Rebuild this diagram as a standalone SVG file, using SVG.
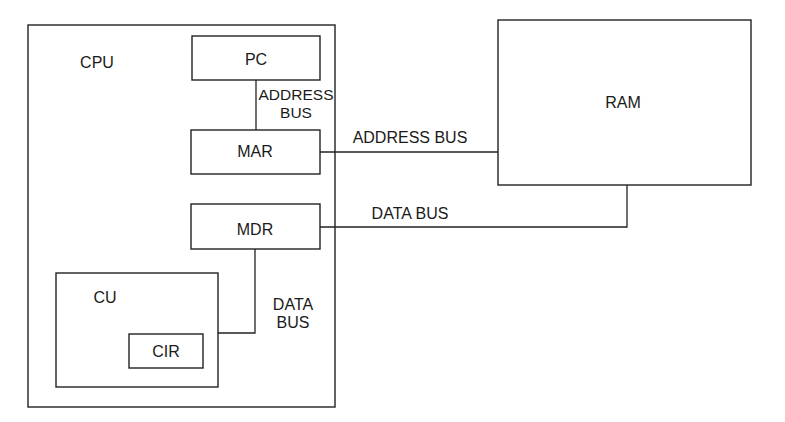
<svg xmlns="http://www.w3.org/2000/svg" width="785" height="422" viewBox="0 0 785 422">
<style>
.box{fill:none;stroke:#222;stroke-width:1.4}
.wire{fill:none;stroke:#222;stroke-width:1.3}
text{font-family:"Liberation Sans",Arial,sans-serif;font-size:16px;fill:#1a1a1a;text-anchor:middle}
.sm{font-size:15.5px}
</style>
<rect width="785" height="422" fill="#fff"/>
<g id="cpu"><rect class="box" x="28" y="25" width="307" height="382"/><text x="97" y="68">CPU</text></g>
<g id="pc"><rect class="box" x="192" y="36" width="128" height="44"/><text x="256" y="65">PC</text></g>
<g id="mar"><rect class="box" x="191" y="130" width="129" height="44"/><text x="255" y="157">MAR</text></g>
<g id="mdr"><rect class="box" x="191" y="204" width="129" height="45"/><text x="255" y="235">MDR</text></g>
<g id="cu"><rect class="box" x="56" y="273" width="162" height="114"/><text x="105" y="303">CU</text></g>
<g id="cir"><rect class="box" x="129" y="334" width="74" height="34"/><text x="166" y="357">CIR</text></g>
<g id="ram"><rect class="box" x="498" y="20" width="253" height="165"/><text x="623" y="108">RAM</text></g>
<g id="connectors">
<line class="wire" x1="256" y1="80" x2="256" y2="130"/>
<polyline class="wire" points="320,152 498,152"/>
<polyline class="wire" points="320,227 627,227 627,185"/>
<polyline class="wire" points="255,249 255,333 218,333"/>
<text class="sm" x="296" y="100">ADDRESS</text><text class="sm" x="296" y="118">BUS</text>
<text x="410" y="143">ADDRESS BUS</text>
<text x="410" y="219">DATA BUS</text>
<text x="293" y="310">DATA</text><text x="293" y="328">BUS</text>
</g>
</svg>
